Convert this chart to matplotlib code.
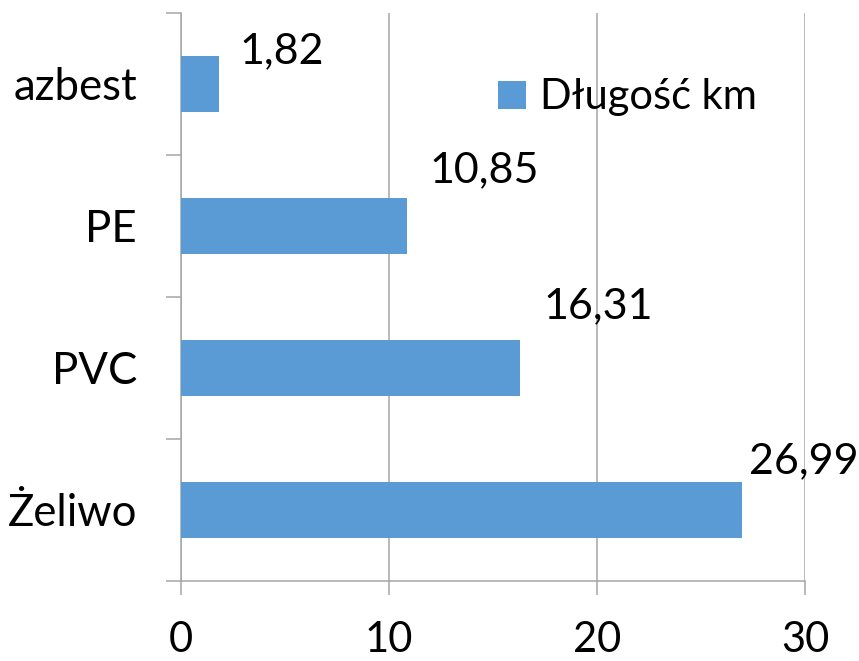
import matplotlib.pyplot as plt
import numpy as np

# data
categories = ['Żeliwo', 'PVC', 'PE', 'azbest']
lengths = [26.99, 16.31, 10.85, 1.82]
value_labels = ['26,99', '16,31', '10,85', '1,82']
series_name = 'Długość km'

# label offsets (pixels) from bar end / bar centre
label_dx = [7, 23, 23, 21]
label_dy = [37, 50, 44, 21]

bar_color = '#5B9BD5'
grid_color = '#A6A6A6'
plt.rcParams['font.family'] = ['Lato', 'DejaVu Sans']

fig = plt.figure(figsize=(8.59, 6.61), dpi=100)
ax = fig.add_axes([181/859, 80/661, 624/859, 568/661])

y = np.arange(len(categories))
ax.barh(y, lengths, height=0.4, color=bar_color, label=series_name, zorder=3)

for i, (v, txt) in enumerate(zip(lengths, value_labels)):
    ax.annotate(txt, xy=(v, y[i]), xytext=(label_dx[i], label_dy[i]),
                textcoords='offset pixels', ha='left', va='baseline',
                fontsize=31, color='black', zorder=4)

ax.set_xlim(0, 30)
ax.set_ylim(-0.5, len(categories) - 0.5)

ax.set_xticks([0, 10, 20, 30])
ax.tick_params(axis='x', direction='out', length=10, width=1.1,
               color=grid_color, labelsize=30, pad=19)
ax.xaxis.grid(True, color=grid_color, linewidth=1.1, zorder=0)

ax.set_yticks(np.arange(-0.5, len(categories), 1.0))
ax.set_yticklabels([])
ax.set_yticks(y, minor=True)
ax.set_yticklabels(categories, minor=True)
ax.tick_params(axis='y', which='major', direction='out', length=10.8,
               width=1.1, color=grid_color)
ax.tick_params(axis='y', which='minor', length=0, labelsize=31.5, pad=31.7)

for s in ['top', 'right']:
    ax.spines[s].set_visible(False)
for s in ['left', 'bottom']:
    ax.spines[s].set_color(grid_color)
    ax.spines[s].set_linewidth(1.1)

ax.legend(loc='center left', bbox_to_anchor=(498/859, 1 - 97.5/661),
          bbox_transform=fig.transFigure, frameon=False, fontsize=30,
          borderpad=0, borderaxespad=0, handlelength=0.66,
          handleheight=0.68, handletextpad=0.36)

fig.savefig('out.png', dpi=100)
